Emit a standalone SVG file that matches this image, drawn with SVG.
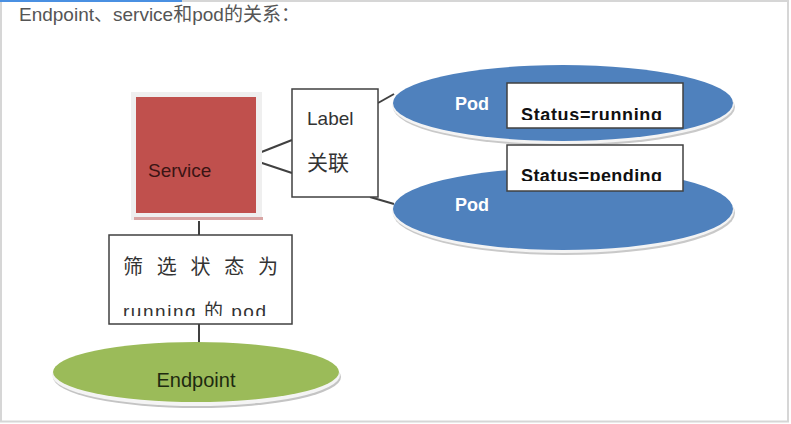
<svg xmlns="http://www.w3.org/2000/svg" width="791" height="424" viewBox="0 0 791 424">
<style>
.t{font-family:"Liberation Sans","Noto Sans CJK SC",sans-serif;}
.box{fill:#fff;stroke:#404040;stroke-width:1.5;}
.ln{stroke:#404040;stroke-width:2;fill:none;}
.pod{fill:#4F81BD;}
.podt{font-family:"Liberation Sans",sans-serif;font-weight:bold;font-size:18px;fill:#fff;}
.st{font-family:"Liberation Sans",sans-serif;font-weight:bold;font-size:18px;fill:#111;}
.cn{font-family:"Noto Sans CJK SC",sans-serif;fill:#333;}
</style>
<defs>
<clipPath id="c1"><rect x="507" y="83" width="176" height="37"/></clipPath>
<clipPath id="c2"><rect x="507" y="145" width="176" height="36"/></clipPath>
<clipPath id="c3"><rect x="109" y="235" width="183" height="81"/></clipPath>
</defs>
<rect x="0" y="0" width="791" height="424" fill="#fff"/>
<rect x="1" y="1" width="787" height="420.5" fill="none" stroke="#d6d6d6" stroke-width="2"/>
<line x1="0" y1="1" x2="182" y2="1" stroke="#4a90e2" stroke-width="2"/>
<text class="t" x="19" y="21" font-size="19" fill="#555">Endpoint、service和pod的关系：</text>

<g id="connectors">
<line class="ln" x1="259" y1="153" x2="292" y2="140"/>
<line class="ln" x1="259" y1="162" x2="292" y2="173"/>
<line class="ln" x1="378" y1="103" x2="394" y2="94"/>
<line class="ln" x1="370" y1="197" x2="394" y2="204"/>
<line class="ln" x1="199" y1="221" x2="199" y2="235"/>
<line class="ln" x1="199" y1="324" x2="199" y2="350"/>
</g>

<g id="service">
<rect x="131" y="92" width="131" height="128" fill="#efefef"/>
<rect x="134" y="217" width="129" height="3" fill="#d8a5a4"/>
<rect x="136" y="97" width="120" height="116" fill="#C0504D"/>
<text class="t" x="148" y="177" font-size="19" fill="#3b1414">Service</text>
</g>

<g id="label">
<rect class="box" x="292" y="89" width="86" height="108"/>
<text class="t" x="307" y="125" font-size="19" fill="#333">Label</text>
<text class="cn" x="307" y="170" font-size="21">关联</text>
</g>

<g id="pod1">
<ellipse cx="564" cy="107" rx="171" ry="39" fill="#c9c9c9"/>
<ellipse cx="563" cy="105" rx="171" ry="39" fill="#f4f4f4"/>
<ellipse class="pod" cx="563" cy="103" rx="170" ry="38"/>
<text class="podt" x="455" y="110">Pod</text>
</g>

<g id="pod2">
<ellipse cx="564" cy="213" rx="171" ry="42" fill="#c9c9c9"/>
<ellipse cx="563" cy="211" rx="171" ry="42" fill="#f4f4f4"/>
<ellipse class="pod" cx="563" cy="209" rx="170" ry="41"/>
<text class="podt" x="455" y="211">Pod</text>
</g>

<g id="status-running">
<rect class="box" x="507" y="83" width="176" height="45"/>
<text class="st" x="521" y="121" clip-path="url(#c1)" textLength="141">Status=running</text>
</g>

<g id="status-pending">
<rect class="box" x="507" y="145" width="176" height="46"/>
<text class="st" x="521" y="182" clip-path="url(#c2)" textLength="141">Status=pending</text>
</g>

<g id="filter">
<rect class="box" x="109" y="235" width="183" height="89"/>
<text class="cn" x="123" y="274" font-size="20" textLength="155">筛 选 状 态 为</text>
<text class="t" x="123" y="318" font-size="19" fill="#333" clip-path="url(#c3)" textLength="143">running 的 pod</text>
</g>

<g id="endpoint">
<ellipse cx="197" cy="377" rx="144" ry="31" fill="#c4c4c4"/>
<ellipse cx="196" cy="375" rx="144" ry="31" fill="#f4f4f4"/>
<ellipse cx="196" cy="372" rx="143" ry="30" fill="#9BBB59"/>
<text class="t" x="196" y="387" font-size="20" fill="#1e2a10" text-anchor="middle">Endpoint</text>
</g>
</svg>
